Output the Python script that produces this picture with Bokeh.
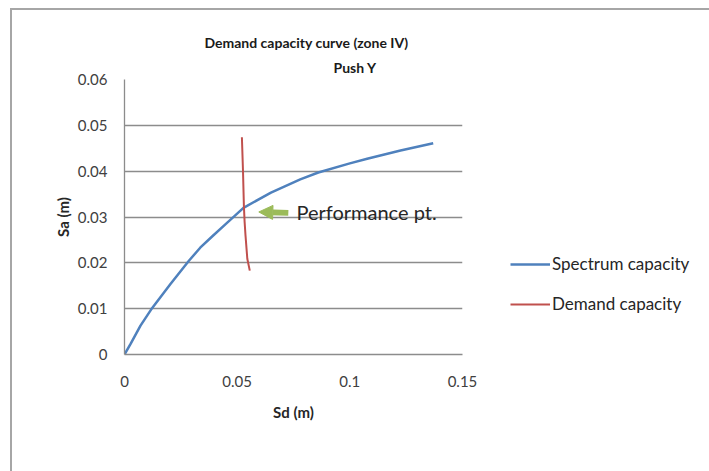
from bokeh.plotting import figure
from bokeh.layouts import row
from bokeh.models import Legend, LegendItem, Label, Arrow, NormalHead, FixedTicker, Range1d, Title
from bokeh.embed import file_html
from bokeh.resources import INLINE

# ---- data ----
spectrum_sd = [0, 0.0027, 0.0071, 0.0118, 0.0204, 0.0285, 0.0336, 0.039, 0.045, 0.0528,
               0.065, 0.078, 0.086, 0.1, 0.1077, 0.1225, 0.137]
spectrum_sa = [0, 0.0023, 0.0063, 0.0098, 0.0154, 0.0204, 0.0233, 0.0258, 0.0285, 0.032,
               0.0353, 0.0382, 0.0397, 0.0417, 0.0427, 0.0445, 0.0461]
demand_sd = [0.0521, 0.0526, 0.0530, 0.0533, 0.0537, 0.0545, 0.0556]
demand_sa = [0.0474, 0.0398, 0.0322, 0.0290, 0.026, 0.0209, 0.0183]

x_ticks = [0, 0.05, 0.1, 0.15]
x_tick_labels = ["0", "0.05", "0.1", "0.15"]
y_ticks = [0, 0.01, 0.02, 0.03, 0.04, 0.05, 0.06]
y_tick_labels = ["0", "0.01", "0.02", "0.03", "0.04", "0.05", "0.06"]

title_line1 = "Demand capacity curve (zone IV)"
title_line2 = "Push Y"
x_label = "Sd (m)"
y_label = "Sa (m)"
series_names = ["Spectrum capacity", "Demand capacity"]
annotation_text = "Performance pt."

FONT = "Lato"
BLUE = "#4F81BD"
RED = "#C0504D"
GREEN = "#9BBB59"
GRID = "#8C8C8C"

p = figure(width=470, height=461, output_backend="svg", toolbar_location=None,
           x_range=Range1d(0, 0.15), y_range=Range1d(0, 0.06),
           min_border_left=112, min_border_right=20, min_border_top=69,
           min_border_bottom=117)
p.outline_line_color = None
p.background_fill_color = "white"
p.border_fill_color = "white"

p.xaxis.ticker = FixedTicker(ticks=x_ticks)
p.yaxis.ticker = FixedTicker(ticks=y_ticks)
p.xaxis.major_label_overrides = {t: l for t, l in zip(x_ticks, x_tick_labels)}
p.yaxis.major_label_overrides = {t: l for t, l in zip(y_ticks, y_tick_labels)}
for ax in (p.xaxis, p.yaxis):
    ax.axis_line_color = GRID
    ax.axis_line_width = 1.3
    ax.major_tick_out = 0
    ax.major_tick_in = 0
    ax.minor_tick_out = 0
    ax.minor_tick_in = 0
    ax.major_label_text_font = FONT
    ax.major_label_text_font_size = "15px"
    ax.major_label_text_color = "#404040"
    ax.axis_label_text_font = FONT
    ax.axis_label_text_font_size = "15px"
    ax.axis_label_text_font_style = "bold"
    ax.axis_label_text_color = "#262626"
p.xaxis.axis_label = x_label
p.yaxis.axis_label = y_label
p.xaxis.major_label_standoff = 21
p.yaxis.major_label_standoff = 17
p.xaxis.axis_label_standoff = 13
p.yaxis.axis_label_standoff = 3

p.xgrid.grid_line_color = None
p.ygrid.grid_line_color = GRID
p.ygrid.grid_line_width = 1.3
p.ygrid.ticker = FixedTicker(ticks=y_ticks)

p.line(spectrum_sd, spectrum_sa, line_color=BLUE, line_width=2.5)
p.line(demand_sd, demand_sa, line_color=RED, line_width=2)

# title as two stacked titles (second line first = closest to frame)
p.add_layout(Title(text=title_line2, align="left", offset=209, standoff=8,
                   text_font=FONT, text_font_size="14px", text_font_style="bold",
                   text_color="#1a1a1a"), "above")
p.add_layout(Title(text=title_line1, align="left", offset=80, standoff=4,
                   text_font=FONT, text_font_size="14px", text_font_style="bold",
                   text_color="#1a1a1a"), "above")

# annotation
p.add_layout(Arrow(x_start=0.0727, y_start=0.0309, x_end=0.0596, y_end=0.0311,
                   line_color=GREEN, line_width=6,
                   end=NormalHead(size=14, fill_color=GREEN, line_color=GREEN)))
p.add_layout(Label(x=0.0763, y=0.0311, text=annotation_text, text_align="left",
                   text_baseline="middle", text_font=FONT, text_font_size="20px",
                   text_color="#262626"))

# legend panel (to the right of the plot area); its lines carry the same data,
# kept outside the visible range so that only the legend shows
q = figure(width=227, height=461, output_backend="svg", toolbar_location=None,
           x_range=Range1d(0, 1), y_range=Range1d(1, 2),
           min_border_left=0, min_border_right=0, min_border_top=0, min_border_bottom=0)
q.axis.visible = False
q.grid.visible = False
q.outline_line_color = None
q.border_fill_color = "white"
q.background_fill_color = "white"
l1 = q.line(spectrum_sd, spectrum_sa, line_color=BLUE, line_width=2.5)
l2 = q.line(demand_sd, demand_sa, line_color=RED, line_width=2)
legend = Legend(items=[LegendItem(label=series_names[0], renderers=[l1]),
                       LegendItem(label=series_names[1], renderers=[l2])],
                location=(28, 40), padding=0, margin=0, spacing=19,
                glyph_width=40, glyph_height=20, label_standoff=2,
                label_text_font=FONT, label_text_font_size="17px",
                label_text_color="#262626", border_line_color=None,
                background_fill_alpha=0)
q.add_layout(legend, "center")

layout = row(p, q, styles={"border-top": "2px solid #a6a6a6", "border-left": "2px solid #a6a6a6",
                           "margin-left": "10px", "margin-top": "8px"})

open("out.html", "w").write(file_html(layout, INLINE))
